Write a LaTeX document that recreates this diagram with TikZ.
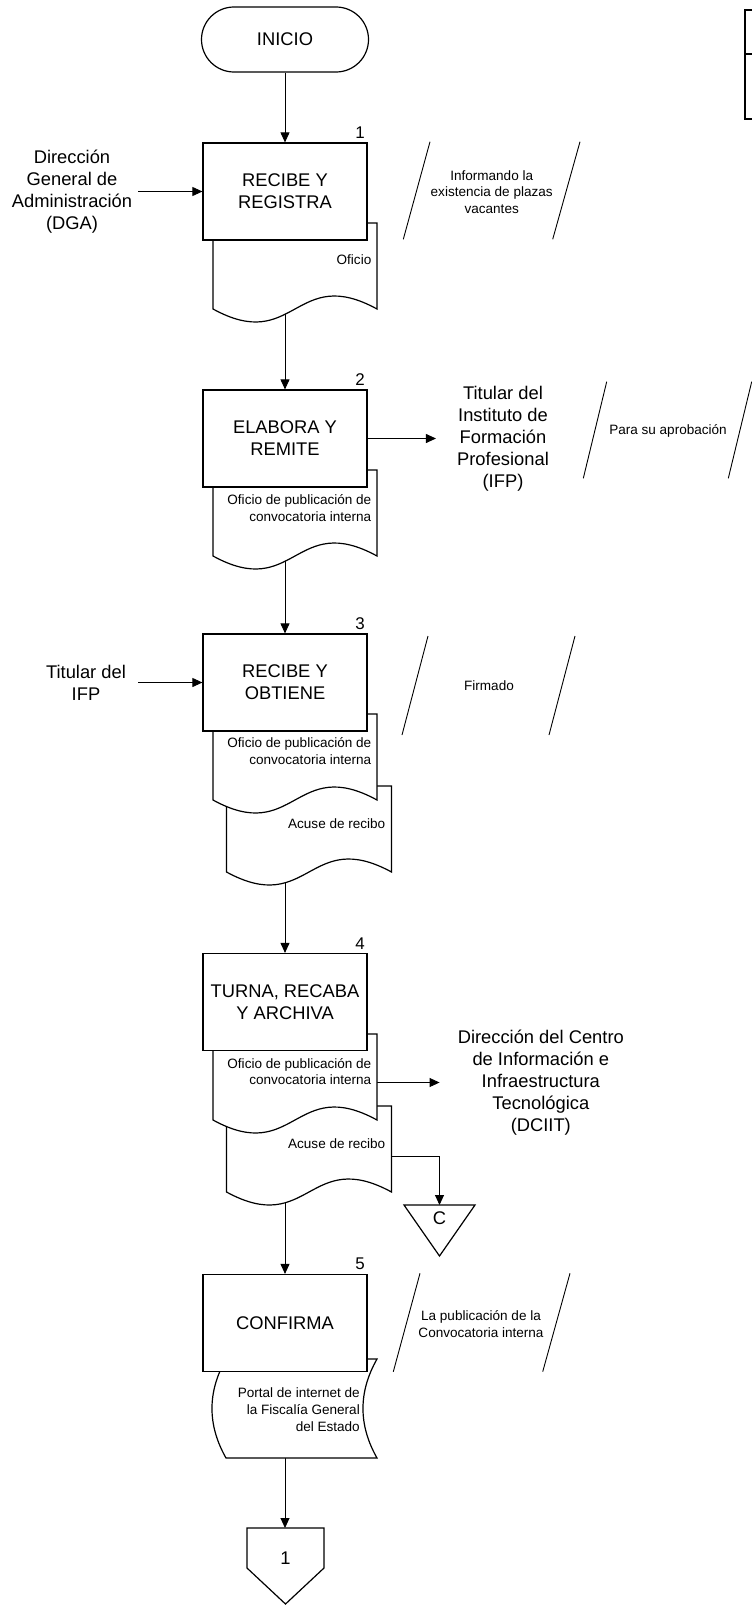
\documentclass[tikz,border=0pt]{standalone}
\usepackage{fontspec}
\setmainfont{Liberation Sans}
\usetikzlibrary{arrows.meta}
\pgfdeclarelayer{bg}
\pgfsetlayers{bg,main}

\newcommand\bigf{\fontsize{18.4}{22}\selectfont}
\newcommand\smf{\fontsize{13.6}{16.7}\selectfont}
% document shape: x0, top, x1, yend
\newcommand\docshape[4]{%
  \path[docst] (#1,#4) -- (#1,#2) -- (#3,#2) -- (#3,#4)
    .. controls ({(#1+#3)/2},{#4-45}) and ({(#1+#3)/2},{#4+45}) .. (#1,#4) -- cycle;}

\tikzset{
  procbox/.style={draw, line width=1.2bp, fill=white, minimum width=164bp,
    minimum height=97bp, inner sep=0pt, align=center, font=\bigf},
  docst/.style={draw, line width=1.2bp, fill=white},
  conn/.style={line width=0.9bp, -{Triangle[length=10bp,width=9bp]}},
  slash/.style={line width=0.9bp},
  bigtxt/.style={align=center, font=\bigf, inner sep=0pt},
  smtxt/.style={font=\smf, align=center, inner sep=0pt},
  doctxt/.style={font=\smf, align=right, inner sep=0pt, anchor=east},
  numlbl/.style={font=\fontsize{17}{17}\selectfont, inner sep=0pt},
  shapeline/.style={draw, line width=1.2bp, fill=white},
}

\begin{document}
\begin{tikzpicture}[x=1bp,y=-1bp]
\useasboundingbox (0,0) rectangle (752,1605);
\clip (0,0) rectangle (752,1605);

% top-right table fragment
\draw[line width=2bp] (760,10) -- (745,10) -- (745,118.5) -- (760,118.5);
\draw[line width=2bp] (745,54) -- (760,54);

% terminal
\node[draw, line width=1.2bp, rounded corners=32.5bp, minimum width=167bp,
  minimum height=65bp, font=\bigf, inner sep=0pt] (inicio) at (285,39.5) {INICIO};

% documents (drawn before boxes)
\docshape{213}{223}{377}{309}
\docshape{213}{470}{377}{556}
\docshape{226.5}{786}{391.5}{872}
\docshape{213}{714}{377}{800}
\docshape{226.5}{1106}{391.5}{1192}
\docshape{213}{1034}{377}{1120}
\path[docst] (226,1359) -- (377,1359) .. controls (358.3,1392) and (358.3,1425) .. (377,1458)
  -- (226,1458) .. controls (207.3,1425) and (207.3,1392) .. (226,1359) -- cycle;

% connector anchor points on documents
\coordinate (d1o) at (285,300);
\coordinate (d2o) at (285,547);
\coordinate (d3o) at (285,863);
\coordinate (d4o) at (285,1183);
\coordinate (d5o) at (285,1450);
\coordinate (d4ar) at (377,1082.5);
\coordinate (d4br) at (391.5,1156);
\coordinate (ctop) at (439.5,1205);
\coordinate (offtop) at (285,1528);

% process boxes
\node[procbox] (b1) at (285,191.5) {RECIBE Y\\REGISTRA};
\node[procbox] (b2) at (285,438.5) {ELABORA Y\\REMITE};
\node[procbox] (b3) at (285,682.5) {RECIBE Y\\OBTIENE};
\node[procbox] (b4) at (285,1002) {TURNA, RECABA\\Y ARCHIVA};
\node[procbox] (b5) at (285,1323) {CONFIRMA};

% step numbers
\node[numlbl] (n1) at (360,133) {1};
\node[numlbl] (n2) at (360,380) {2};
\node[numlbl] (n3) at (360,624) {3};
\node[numlbl] (n4) at (360,943.5) {4};
\node[numlbl] (n5) at (360,1264) {5};

% document texts
\node[doctxt] (t1) at (371.5,260) {Oficio};
\node[doctxt] (t2) at (371.5,508.3) {Oficio de publicación de\\convocatoria interna};
\node[doctxt] (t3a) at (371.5,751) {Oficio de publicación de\\convocatoria interna};
\node[doctxt] (t3b) at (385.5,823.3) {Acuse de recibo};
\node[doctxt] (t4a) at (371.5,1071.7) {Oficio de publicación de\\convocatoria interna};
\node[doctxt] (t4b) at (385.5,1143.5) {Acuse de recibo};
\node[doctxt] (t5) at (360,1409.7) {Portal de internet de\\la Fiscalía General\\del Estado};

% external entities
\node[bigtxt] (dga) at (72,191.5) {Dirección\\General de\\Administración\\(DGA)};
\node[bigtxt] (tifp) at (86,682.5) {Titular del\\IFP};
\node[bigtxt] (ifp) at (503,438.5) {Titular del\\Instituto de\\Formación\\Profesional\\(IFP)};
\node[bigtxt] (dciit) at (540.8,1082.5) {Dirección del Centro\\de Información e\\Infraestructura\\Tecnológica\\(DCIIT)};

% annotations
\draw[slash] (403.3,239.3) -- (430,141.7);
\draw[slash] (552.7,239.3) -- (580,141.7);
\node[smtxt] (a1) at (491.7,192) {Informando la\\existencia de plazas\\vacantes};
\draw[slash] (583.3,478.3) -- (606.7,381.7);
\draw[slash] (728.3,478.3) -- (751.7,381.7);
\node[smtxt] (a2) at (668,431) {Para su aprobación};
\draw[slash] (402,735) -- (428,636);
\draw[slash] (549,735) -- (575,636);
\node[smtxt] (a3) at (489,686) {Firmado};
\draw[slash] (393.3,1371.7) -- (420,1273.3);
\draw[slash] (542.7,1371.7) -- (570,1273.3);
\node[smtxt] (a5) at (481,1324) {La publicación de la\\Convocatoria interna};

% connectors C and off-page
\draw[shapeline] (404,1205) -- (475,1205) -- (439.5,1256) -- cycle;
\node[bigtxt] (cnode) at (439.5,1218.5) {C};
\draw[shapeline] (247,1528) -- (324,1528) -- (324,1568) -- (285.5,1604) -- (247,1568) -- cycle;
\node[bigtxt] (off1) at (285.5,1558) {1};

% connectors
\begin{pgfonlayer}{bg}
\draw[conn] (inicio.south) -- (b1.north);
\draw[conn] ([xshift=5.7bp]dga.east) -- (b1.west);
\draw[conn] (d1o) -- (b2.north);
\draw[conn] (b2.east) -- ([xshift=-21bp]ifp.west);
\draw[conn] ([xshift=12bp]tifp.east) -- (b3.west);
\draw[conn] (d2o) -- (b3.north);
\draw[conn] (d3o) -- (b4.north);
\draw[conn] (d4ar) -- ([xshift=-18bp]dciit.west);
\draw[conn] (d4br) -| (ctop);
\draw[conn] (d4o) -- (b5.north);
\draw[conn] (d5o) -- (offtop);
\end{pgfonlayer}
\end{tikzpicture}
\end{document}
